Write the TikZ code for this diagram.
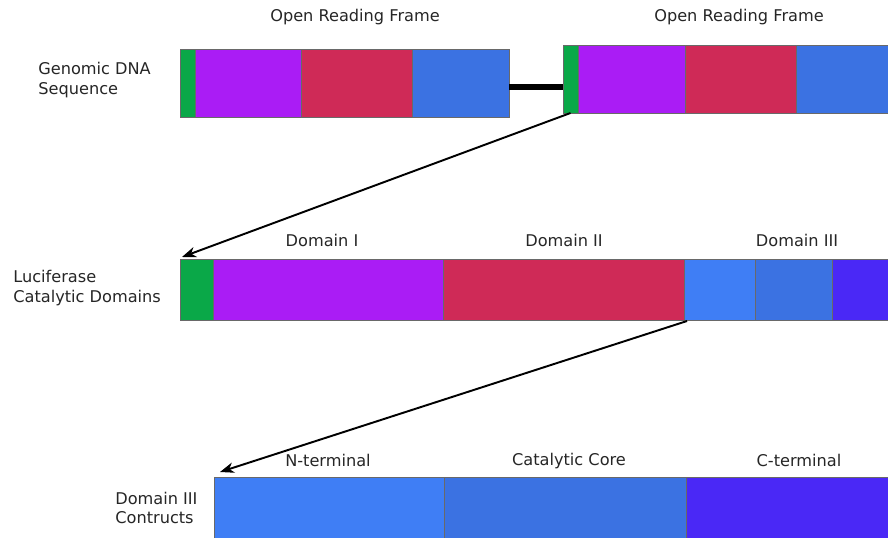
\documentclass[tikz,border=0pt]{standalone}
\usepackage{fontspec}
\setmainfont{DejaVu Sans}
\usetikzlibrary{positioning,arrows.meta}

\definecolor{tagGreen}{RGB}{10,168,72}
\definecolor{domPurple}{RGB}{170,28,245}
\definecolor{domRed}{RGB}{207,42,87}
\definecolor{domBlue}{RGB}{59,114,226}
\definecolor{lightBlue}{RGB}{63,126,245}
\definecolor{domIndigo}{RGB}{74,40,246}
\definecolor{edgeGray}{RGB}{105,105,105}

\tikzset{
  seg/.style = {draw=edgeGray, line width=0.5pt, rectangle, inner sep=0pt, outer sep=0pt},
  wd/.style = {minimum width=#1*0.02cm},
  ht/.style = {minimum height=#1*0.02cm},
  lbl/.style = {font=\fontsize{9.2}{11.3}\selectfont, text=black!85, inner sep=0pt},
  side/.style = {lbl, align=left, anchor=west},
  jump/.style = {-{Stealth[length=8pt,width=6pt,inset=2.5pt]}, line width=1.1pt},
}

\begin{document}
\begin{tikzpicture}[x=0.02cm, y=-0.02cm]
  \clip (0,0) rectangle (888,537);
  \fill[white] (0,0) rectangle (888,537);

  % genomic DNA, two open reading frames joined by a linker
  \node[seg, fill=tagGreen, wd=15, ht=68, anchor=north west] (g1) at (180,49) {};
  \node[seg, fill=domPurple, wd=106, ht=68, right=0pt of g1] (p1) {};
  \node[seg, fill=domRed, wd=111, ht=68, right=0pt of p1] (r1) {};
  \node[seg, fill=domBlue, wd=97, ht=68, right=0pt of r1] (b1) {};

  \node[seg, fill=tagGreen, wd=15, ht=68, anchor=north west] (g2) at (563,45) {};
  \node[seg, fill=domPurple, wd=107, ht=68, right=0pt of g2] (p2) {};
  \node[seg, fill=domRed, wd=111, ht=68, right=0pt of p2] (r2) {};
  \node[seg, fill=domBlue, wd=120, ht=68, right=0pt of r2] (b2) {};

  \coordinate (lk) at (0,87);
  \draw[line width=6*0.02cm] (b1.east |- lk) -- (g2.west |- lk);

  \node[lbl] (orf1) at (355,17) {Open Reading Frame};
  \node[lbl] (orf2) at (739,17) {Open Reading Frame};
  \node[side] (dna) at (38,80) {Genomic DNA\\Sequence};

  % catalytic domains
  \node[seg, fill=tagGreen, wd=33, ht=61, anchor=north west] (g3) at (180,259) {};
  \node[seg, fill=domPurple, wd=230, ht=61, right=0pt of g3] (p3) {};
  \node[seg, fill=domRed, wd=241, ht=61, right=0pt of p3] (r3) {};
  \node[seg, fill=lightBlue, wd=71, ht=61, right=0pt of r3] (b3) {};
  \node[seg, fill=domBlue, wd=77, ht=61, right=0pt of b3] (c3) {};
  \node[seg, fill=domIndigo, wd=70, ht=61, right=0pt of c3] (i3) {};

  \node[lbl] (d1) at (322,240) {Domain I};
  \node[lbl] (d2) at (564,240) {Domain II};
  \node[lbl] (d3) at (797,240) {Domain III};
  \node[side] (luc) at (13,288) {Luciferase\\Catalytic Domains};

  % domain III constructs
  \node[seg, fill=lightBlue, wd=230, ht=70, anchor=north west] (n4) at (214,477) {};
  \node[seg, fill=domBlue, wd=242, ht=70, right=0pt of n4] (k4) {};
  \node[seg, fill=domIndigo, wd=220, ht=70, right=0pt of k4] (t4) {};

  \node[lbl] (nt) at (328,460) {N-terminal};
  \node[lbl] (cc) at (569,461) {Catalytic Core};
  \node[lbl] (ct) at (799,460) {C-terminal};
  \node[side] (con) at (115,508) {Domain III\\Contructs};

  % zoom arrows
  \draw[jump] (g2.south) -- ([shift={(2,-2)}]g3.north west);
  \draw[jump] ([shift={(3,1)}]b3.south west) -- ([shift={(6,-5)}]n4.north west);
\end{tikzpicture}
\end{document}
